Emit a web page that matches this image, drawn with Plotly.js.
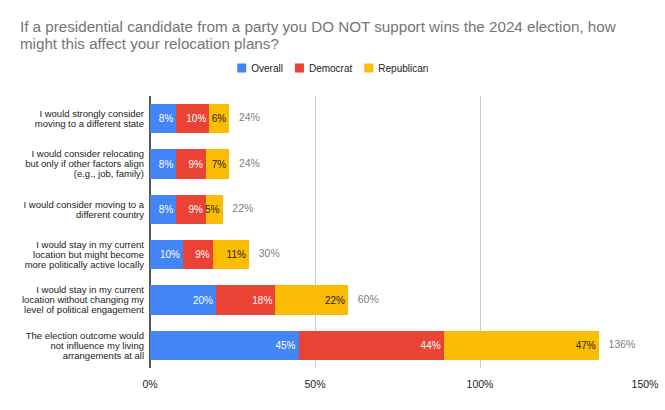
<!DOCTYPE html>
<html><head><meta charset="utf-8">
<script src="https://cdn.plot.ly/plotly-3.0.1.min.js"></script>
<style>html,body{margin:0;padding:0;background:#fff}#chart{width:665px;height:410px}</style>
</head><body><div id="chart"></div>
<script>
const categories = [
  "I would strongly consider<br>moving to a different state",
  "I would consider relocating<br>but only if other factors align<br>(e.g., job, family)",
  "I would consider moving to a<br>different country",
  "I would stay in my current<br>location but might become<br>more politically active locally",
  "I would stay in my current<br>location without changing my<br>level of political engagement",
  "The election outcome would<br>not influence my living<br>arrangements at all"
];
const overall = [8, 8, 8, 10, 20, 45];
const democrat = [10, 9, 9, 9, 18, 44];
const republican = [6, 7, 5, 11, 22, 47];
const totals = [24, 24, 22, 30, 60, 136];
const seriesNames = ["Overall", "Democrat", "Republican"];
const colors = ["#4285F4", "#EA4335", "#FBBC04"];
const tickVals = [0, 50, 100, 150];
const tickText = ["0%", "50%", "100%", "150%"];

const font = "Arial, 'Liberation Sans', sans-serif";
const pct = a => a.map(v => v + "%");
function barTrace(vals, name, color, txtColor) {
  return {
    type: "bar", orientation: "h", name: name, x: vals, y: categories,
    marker: {color: color}, text: pct(vals), textposition: "inside",
    insidetextanchor: "end", constraintext: "none", textangle: 0,
    textfont: {family: font, size: 10, color: txtColor},
    hoverinfo: "skip", cliponaxis: false
  };
}
const data = [
  barTrace(overall, seriesNames[0], colors[0], "#ffffff"),
  barTrace(democrat, seriesNames[1], colors[1], "#ffffff"),
  barTrace(republican, seriesNames[2], colors[2], "#222222"),
  {
    type: "scatter", mode: "markers+text", x: totals, y: categories, text: pct(totals),
    marker: {size: 14, color: "rgba(0,0,0,0)"},
    textposition: "middle right", textfont: {family: font, size: 10.5, color: "#808080"},
    showlegend: false, hoverinfo: "skip", cliponaxis: false
  }
];
const layout = {
  width: 665, height: 410, autosize: false,
  margin: {l: 150, r: 20, t: 96, b: 42, autoexpand: false},
  barmode: "stack", bargap: 0.36,
  paper_bgcolor: "#fff", plot_bgcolor: "#fff",
  font: {family: font, color: "#222"},
  title: {
    text: "If a presidential candidate from a party you DO NOT support wins the 2024 election, how<br>might this affect your relocation plans?",
    x: 0.03, xref: "container", xanchor: "left",
    y: 0.921, yref: "container", yanchor: "top",
    font: {family: font, size: 15.2, color: "#757575"}
  },
  legend: {
    orientation: "h", x: 0.37, xanchor: "center",
    y: 1.05, yanchor: "bottom", traceorder: "normal",
    bgcolor: "rgba(0,0,0,0)",
    font: {family: font, size: 10, color: "#222"}
  },
  xaxis: {
    range: [0, 150], tickvals: tickVals, ticktext: tickText,
    showgrid: true, gridcolor: "#cccccc", gridwidth: 1,
    zeroline: true, zerolinecolor: "#555", zerolinewidth: 2,
    showline: false, ticks: "", fixedrange: true, automargin: false,
    ticklabelstandoff: 8,
    tickfont: {family: font, size: 10.5, color: "#222"}
  },
  yaxis: {
    autorange: "reversed", showgrid: false, zeroline: false, showline: false,
    ticks: "", ticklen: 0, fixedrange: true, automargin: false,
    ticklabelstandoff: 5,
    tickfont: {family: font, size: 9.5, color: "#222"}
  },
  showlegend: true
};

function em(v) { const f = parseFloat(v); return isNaN(f) ? 0 : f; }
function tighten(textEl, spacing, keepCenter) {
  const lines = textEl.querySelectorAll("tspan.line");
  const n = lines.length;
  if (n < 2) return;
  const d0 = em(lines[0].getAttribute("dy"));
  const off = keepCenter ? (n - 1) * (1.3 - spacing) / 2 : 0;
  lines.forEach((t, k) => t.setAttribute("dy", (d0 + off + k * spacing) + "em"));
}
function fixLegend(gd) {
  const items = Array.from(gd.querySelectorAll(".legend .traces"));
  if (!items.length) return;
  const groups = items[0].parentNode;
  const bb0 = groups.getBBox();
  const c0 = bb0.x + bb0.width / 2;
  const half = 4.5, textGap = 5, itemGap = 12;
  let x = 0;
  const y0 = items[0].getAttribute("transform").match(/translate\(([^,]+),\s*([^)]+)\)/);
  const yy = y0 ? parseFloat(y0[2]) : 0;
  items.forEach(it => {
    it.querySelectorAll(".legendpoints path").forEach(p =>
      p.setAttribute("d", `M${half},${half}H${-half}V${-half}H${half}Z`));
    const txt = it.querySelector("text.legendtext");
    txt.setAttribute("x", 20 + half + textGap);
    txt.querySelectorAll("tspan").forEach(s => { if (s.hasAttribute("x")) s.setAttribute("x", 20 + half + textGap); });
    const w = txt.getComputedTextLength();
    it.setAttribute("transform", `translate(${x},${yy})`);
    x += 2 * half + textGap + w + itemGap;
  });
  const bb1 = groups.getBBox();
  const shift = c0 - (bb1.x + bb1.width / 2);
  items.forEach(it => {
    const m = it.getAttribute("transform").match(/translate\(([^,]+),\s*([^)]+)\)/);
    it.setAttribute("transform", `translate(${parseFloat(m[1]) + shift},${parseFloat(m[2])})`);
  });
}

Plotly.newPlot("chart", data, layout, {displayModeBar: false, staticPlot: true}).then(gd => {
  gd.querySelectorAll(".ytick text").forEach(t => tighten(t, 1.05, true));
  const title = gd.querySelector(".gtitle");
  if (title) tighten(title, 1.12, false);
  fixLegend(gd);
});
</script></body></html>
